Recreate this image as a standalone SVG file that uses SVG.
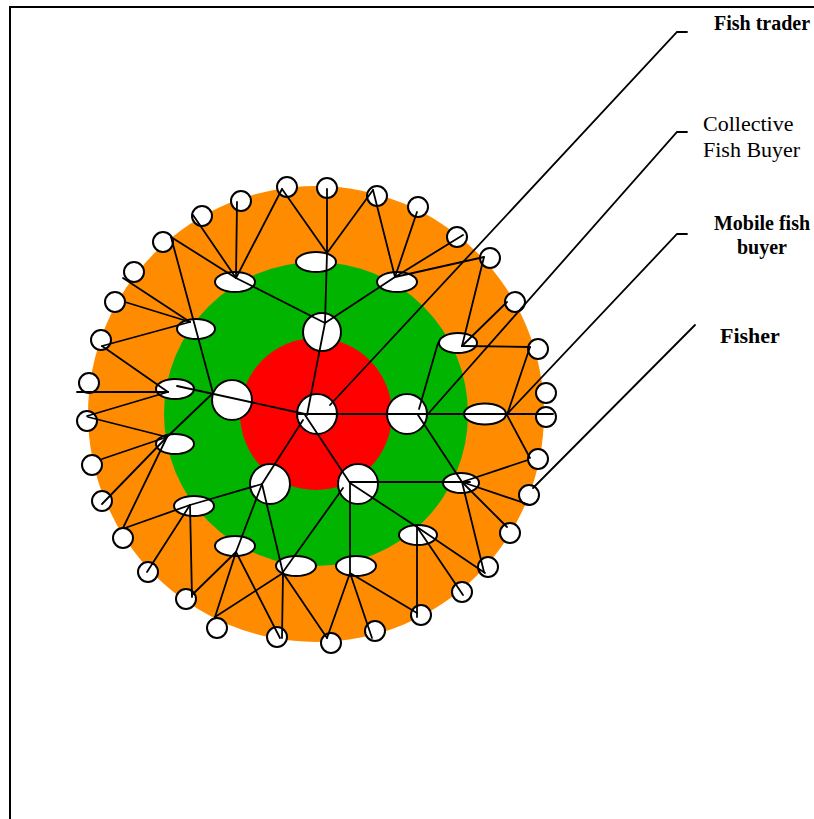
<svg xmlns="http://www.w3.org/2000/svg" width="814" height="819" viewBox="0 0 814 819">
<style>
.fisher,.mobile,.coll,.trader{fill:#fff;stroke:#000;stroke-width:2}
#connectors line,#connectors polyline{stroke:#000;stroke-width:1.8;fill:none;stroke-linecap:round}
.frame{stroke:#000;stroke-width:2;fill:none}
.lbl{font-family:"Liberation Serif","Times New Roman",serif;fill:#000}
.b{font-weight:bold}
</style>
<rect x="0" y="0" width="814" height="819" fill="#fff"/>
<polyline class="frame" points="10,819 10,7 814,7"/>
<g id="rings">
<circle cx="316" cy="414" r="228" fill="#FF8C00"/>
<circle cx="316" cy="414" r="152" fill="#00B400"/>
<circle cx="316" cy="414" r="76" fill="#FF0000"/>
</g>
<g id="nodes">
<g id="fisher-1"><circle class="fisher" cx="287" cy="187" r="10"/></g>
<g id="fisher-2"><circle class="fisher" cx="327" cy="188" r="10"/></g>
<g id="fisher-3"><circle class="fisher" cx="377" cy="196" r="10"/></g>
<g id="fisher-4"><circle class="fisher" cx="418" cy="207" r="10"/></g>
<g id="fisher-5"><circle class="fisher" cx="457" cy="237" r="10"/></g>
<g id="fisher-6"><circle class="fisher" cx="490" cy="258" r="10"/></g>
<g id="fisher-7"><circle class="fisher" cx="515" cy="302" r="10"/></g>
<g id="fisher-8"><circle class="fisher" cx="538" cy="349" r="10"/></g>
<g id="fisher-9"><circle class="fisher" cx="546" cy="393" r="10"/></g>
<g id="fisher-10"><circle class="fisher" cx="546" cy="417" r="10"/></g>
<g id="fisher-11"><circle class="fisher" cx="538" cy="459" r="10"/></g>
<g id="fisher-12"><circle class="fisher" cx="529" cy="495" r="10"/></g>
<g id="fisher-13"><circle class="fisher" cx="510" cy="533" r="10"/></g>
<g id="fisher-14"><circle class="fisher" cx="488" cy="567" r="10"/></g>
<g id="fisher-15"><circle class="fisher" cx="462" cy="592" r="10"/></g>
<g id="fisher-16"><circle class="fisher" cx="421" cy="615" r="10"/></g>
<g id="fisher-17"><circle class="fisher" cx="375" cy="631" r="10"/></g>
<g id="fisher-18"><circle class="fisher" cx="331" cy="643" r="10"/></g>
<g id="fisher-19"><circle class="fisher" cx="277" cy="637" r="10"/></g>
<g id="fisher-20"><circle class="fisher" cx="217" cy="628" r="10"/></g>
<g id="fisher-21"><circle class="fisher" cx="186" cy="599" r="10"/></g>
<g id="fisher-22"><circle class="fisher" cx="148" cy="572" r="10"/></g>
<g id="fisher-23"><circle class="fisher" cx="123" cy="538" r="10"/></g>
<g id="fisher-24"><circle class="fisher" cx="102" cy="501" r="10"/></g>
<g id="fisher-25"><circle class="fisher" cx="92" cy="465" r="10"/></g>
<g id="fisher-26"><circle class="fisher" cx="87" cy="421" r="10"/></g>
<g id="fisher-27"><circle class="fisher" cx="89" cy="383" r="10"/></g>
<g id="fisher-28"><circle class="fisher" cx="101" cy="340" r="10"/></g>
<g id="fisher-29"><circle class="fisher" cx="115" cy="302" r="10"/></g>
<g id="fisher-30"><circle class="fisher" cx="134" cy="272" r="10"/></g>
<g id="fisher-31"><circle class="fisher" cx="163" cy="242" r="10"/></g>
<g id="fisher-32"><circle class="fisher" cx="202" cy="216" r="10"/></g>
<g id="fisher-33"><circle class="fisher" cx="241" cy="201" r="10"/></g>
<g id="mobile-1"><ellipse class="mobile" cx="316" cy="262" rx="20" ry="10"/></g>
<g id="mobile-2"><ellipse class="mobile" cx="235" cy="282" rx="20" ry="10"/></g>
<g id="mobile-3"><ellipse class="mobile" cx="397" cy="282" rx="20" ry="10"/></g>
<g id="mobile-4"><ellipse class="mobile" cx="196" cy="329" rx="19" ry="10"/></g>
<g id="mobile-5"><ellipse class="mobile" cx="458" cy="343" rx="19" ry="10"/></g>
<g id="mobile-6"><ellipse class="mobile" cx="175" cy="389" rx="19" ry="10"/></g>
<g id="mobile-7"><ellipse class="mobile" cx="485" cy="414" rx="21" ry="10.5"/></g>
<g id="mobile-8"><ellipse class="mobile" cx="175" cy="444" rx="19" ry="10"/></g>
<g id="mobile-9"><ellipse class="mobile" cx="461" cy="483" rx="18" ry="10"/></g>
<g id="mobile-10"><ellipse class="mobile" cx="194" cy="506" rx="20" ry="10"/></g>
<g id="mobile-11"><ellipse class="mobile" cx="418" cy="535" rx="19" ry="10"/></g>
<g id="mobile-12"><ellipse class="mobile" cx="235" cy="546" rx="20" ry="10"/></g>
<g id="mobile-13"><ellipse class="mobile" cx="296" cy="566" rx="20" ry="10"/></g>
<g id="mobile-14"><ellipse class="mobile" cx="356" cy="566" rx="20" ry="10"/></g>
<g id="collective-1"><circle class="coll" cx="322" cy="332" r="19"/></g>
<g id="collective-2"><circle class="coll" cx="232" cy="400" r="20"/></g>
<g id="collective-3"><circle class="coll" cx="407" cy="414" r="20"/></g>
<g id="collective-4"><circle class="coll" cx="270" cy="484" r="20"/></g>
<g id="collective-5"><circle class="coll" cx="358" cy="484" r="20"/></g>
<g id="trader"><circle class="trader" cx="317" cy="414" r="20"/></g>
</g>
<g id="connectors">
<line x1="282" y1="189" x2="236" y2="278"/>
<line x1="282" y1="189" x2="327" y2="253"/>
<line x1="237" y1="202" x2="236" y2="278"/>
<line x1="193" y1="215" x2="236" y2="278"/>
<line x1="171" y1="237" x2="236" y2="278"/>
<line x1="171" y1="237" x2="213" y2="393"/>
<line x1="327" y1="189" x2="327" y2="253"/>
<line x1="373" y1="190" x2="327" y2="253"/>
<line x1="327" y1="253" x2="325" y2="323"/>
<line x1="236" y1="278" x2="325" y2="323"/>
<line x1="373" y1="190" x2="395" y2="277"/>
<line x1="417" y1="212" x2="395" y2="277"/>
<line x1="463" y1="235" x2="395" y2="277"/>
<line x1="484" y1="257" x2="395" y2="277"/>
<line x1="395" y1="277" x2="325" y2="323"/>
<line x1="325" y1="323" x2="307" y2="415"/>
<line x1="484" y1="257" x2="462" y2="346"/>
<line x1="507" y1="302" x2="462" y2="346"/>
<line x1="530" y1="347" x2="462" y2="346"/>
<line x1="438" y1="343" x2="419" y2="409"/>
<line x1="530" y1="347" x2="507" y2="415"/>
<line x1="507" y1="415" x2="530" y2="458"/>
<line x1="298" y1="414" x2="553" y2="414"/>
<line x1="418" y1="415" x2="462" y2="482"/>
<line x1="350" y1="482" x2="470" y2="482"/>
<line x1="462" y1="482" x2="528" y2="460"/>
<line x1="462" y1="482" x2="530" y2="505"/>
<line x1="462" y1="482" x2="507" y2="527"/>
<line x1="462" y1="482" x2="484" y2="572"/>
<line x1="350" y1="483" x2="417" y2="527"/>
<line x1="417" y1="527" x2="485" y2="573"/>
<line x1="417" y1="527" x2="463" y2="595"/>
<line x1="417" y1="527" x2="417" y2="617"/>
<line x1="350" y1="483" x2="350" y2="573"/>
<line x1="350" y1="573" x2="417" y2="613"/>
<line x1="350" y1="573" x2="372" y2="638"/>
<line x1="350" y1="573" x2="327" y2="638"/>
<line x1="343" y1="488" x2="283" y2="572"/>
<line x1="305" y1="415" x2="350" y2="483"/>
<line x1="303" y1="420" x2="262" y2="484"/>
<line x1="262" y1="484" x2="190" y2="505"/>
<line x1="262" y1="484" x2="236" y2="552"/>
<line x1="262" y1="484" x2="283" y2="573"/>
<line x1="283" y1="573" x2="215" y2="617"/>
<line x1="283" y1="573" x2="282" y2="638"/>
<line x1="283" y1="573" x2="327" y2="638"/>
<line x1="236" y1="552" x2="192" y2="595"/>
<line x1="236" y1="552" x2="215" y2="617"/>
<line x1="236" y1="552" x2="280" y2="638"/>
<line x1="190" y1="505" x2="125" y2="528"/>
<line x1="190" y1="505" x2="147" y2="572"/>
<line x1="190" y1="505" x2="192" y2="597"/>
<line x1="167" y1="437" x2="88" y2="417"/>
<line x1="167" y1="437" x2="102" y2="459"/>
<line x1="167" y1="437" x2="102" y2="504"/>
<line x1="167" y1="437" x2="123" y2="528"/>
<line x1="213" y1="393" x2="167" y2="437"/>
<line x1="168" y1="392" x2="102" y2="346"/>
<line x1="77" y1="392" x2="168" y2="392"/>
<line x1="87" y1="416" x2="168" y2="392"/>
<line x1="177" y1="386" x2="305" y2="414"/>
<line x1="190" y1="322" x2="123" y2="278"/>
<line x1="190" y1="322" x2="125" y2="302"/>
<line x1="190" y1="322" x2="102" y2="346"/>
<polyline points="687,32 677,32 330,405"/>
<polyline points="687,132 677,132 428,414"/>
<polyline points="687,234 677,234 507,414"/>
<line x1="695" y1="325" x2="533" y2="488"/>
</g>
<g id="labels">
<text class="lbl b" x="714" y="30" font-size="20">Fish trader</text>
<text class="lbl" x="703" y="131" font-size="22">Collective</text>
<text class="lbl" x="703" y="157" font-size="22">Fish Buyer</text>
<text class="lbl b" x="762" y="230" font-size="20" text-anchor="middle">Mobile fish</text>
<text class="lbl b" x="762" y="254" font-size="20" text-anchor="middle">buyer</text>
<text class="lbl b" x="720" y="343" font-size="22">Fisher</text>
</g>
</svg>
